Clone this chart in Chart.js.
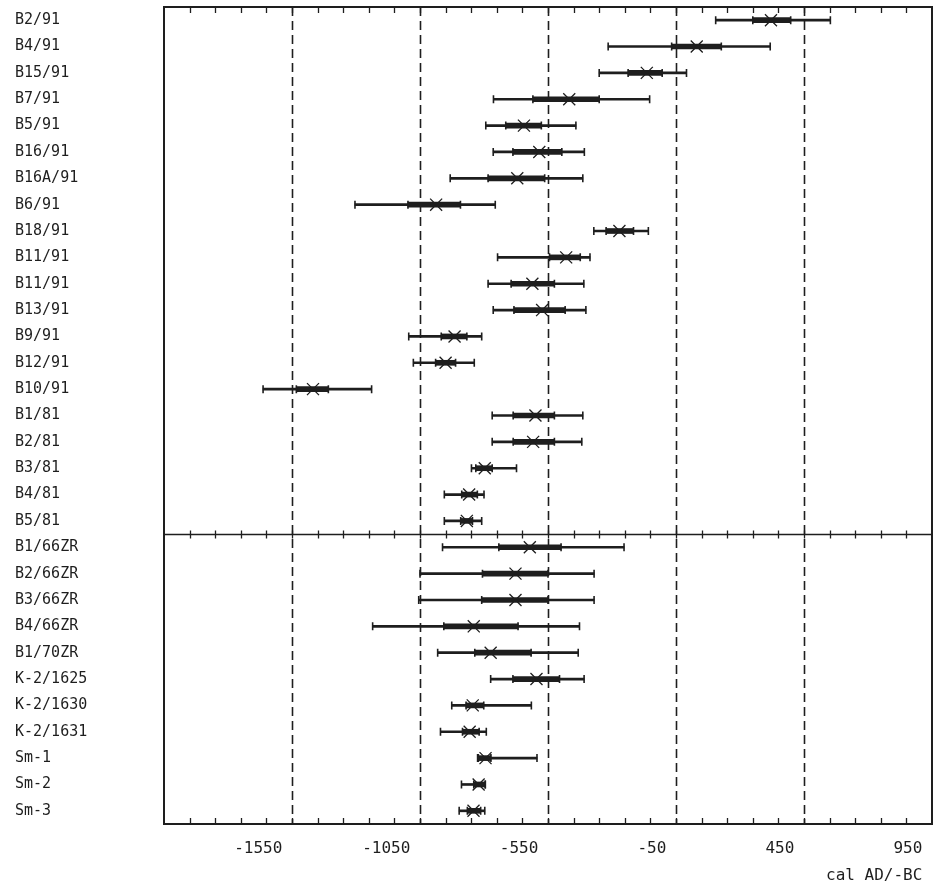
<!DOCTYPE html>
<html>
<head>
<meta charset="utf-8">
<script src="https://cdn.jsdelivr.net/npm/chart.js@4.4.0/dist/chart.umd.min.js"></script>
<style>
  html, body { margin: 0; padding: 0; background: #fff; }
  #wrap { width: 936px; height: 885px; position: relative; }
</style>
</head>
<body>
<div id="wrap"><canvas id="dates"></canvas></div>
<script>
// sample names, top to bottom
const samples = ['B2/91', 'B4/91', 'B15/91', 'B7/91', 'B5/91', 'B16/91', 'B16A/91', 'B6/91', 'B18/91',
    'B11/91', 'B11/91', 'B13/91', 'B9/91', 'B12/91', 'B10/91', 'B1/81', 'B2/81', 'B3/81', 'B4/81', 'B5/81',
    'B1/66ZR', 'B2/66ZR', 'B3/66ZR', 'B4/66ZR', 'B1/70ZR', 'K-2/1625', 'K-2/1630', 'K-2/1631',
    'Sm-1', 'Sm-2', 'Sm-3'];

// 2 sigma range (thin line), cal AD/-BC
const twoSigmaLo = [105, -315, -350, -763, -793, -764, -932, -1304, -371, -747, -784, -764, -1094, -1076, -1663,
    -768, -768, -849, -955, -955, -962, -1050, -1055, -1235, -981, -774, -926, -970, -825, -888, -897];
const twoSigmaHi = [553, 318, -9, -153, -441, -408, -414, -756, -158, -386, -410, -402, -809, -838, -1239,
    -414, -418, -673, -800, -809, -253, -370, -370, -427, -432, -409, -615, -791, -593, -795, -797];

// 1 sigma range (thick line)
const oneSigmaLo = [250, -67, -237, -609, -715, -687, -784, -1097, -323, -544, -694, -683, -967, -989, -1533,
    -686, -686, -832, -887, -891, -742, -806, -809, -957, -836, -687, -870, -884, -822, -840, -865];
const oneSigmaHi = [398, 127, -104, -350, -576, -496, -563, -892, -216, -424, -525, -483, -867, -911, -1408,
    -525, -525, -768, -826, -845, -499, -550, -550, -667, -616, -505, -801, -819, -773, -795, -813];

// calibrated centre (X mark)
const centre = [321, 31, -164, -467, -644, -584, -670, -987, -271, -479, -611, -573, -915, -950, -1468,
    -599, -608, -797, -858, -867, -621, -677, -677, -840, -774, -595, -844, -856, -794, -821, -841];

// x axis
const xMin = -2050;
const xMax = 950;
const tickStep = 100;
const labelledTicks = [-1550, -1050, -550, -50, 450, 950];
const dashedAt = [-1550, -1050, -550, -50, 450];
const groupSplitAfter = 19; // line between B5/81 and B1/66ZR

const ink = '#1e1e1e';
const mono = "'DejaVu Sans Mono', monospace";

// helper: one point per sample so the data index matches the row
function pointsAt(values) {
    return values.map((v, i) => ({ x: v, y: i }));
}

const framePlugin = {
    id: 'framePlugin',
    beforeDatasetsDraw(chart) {
        const { ctx, chartArea } = chart;
        const xs = chart.scales.x;
        ctx.save();
        ctx.strokeStyle = ink;
        ctx.lineWidth = 1.6;
        ctx.setLineDash([9, 5]);
        dashedAt.forEach(v => {
            const px = Math.round(xs.getPixelForValue(v)) + 0.5;
            ctx.beginPath();
            ctx.moveTo(px, chartArea.top);
            ctx.lineTo(px, chartArea.bottom);
            ctx.stroke();
        });
        ctx.restore();
    },
    afterDatasetsDraw(chart) {
        const { ctx, chartArea } = chart;
        const xs = chart.scales.x;
        const ys = chart.scales.y;
        const midY = Math.round((ys.getPixelForValue(groupSplitAfter) + ys.getPixelForValue(groupSplitAfter + 1)) / 2) + 0.5;

        ctx.save();
        ctx.strokeStyle = ink;

        // box
        ctx.lineWidth = 2;
        ctx.strokeRect(chartArea.left, chartArea.top, chartArea.right - chartArea.left, chartArea.bottom - chartArea.top);

        // group separator
        ctx.lineWidth = 1.5;
        ctx.beginPath();
        ctx.moveTo(chartArea.left, midY);
        ctx.lineTo(chartArea.right, midY);
        ctx.stroke();

        // tick marks every 100 years
        ctx.lineWidth = 1.3;
        xs.ticks.forEach(t => {
            if (t.value <= xMin || t.value >= xMax) return;
            const px = Math.round(xs.getPixelForValue(t.value)) + 0.5;
            ctx.beginPath();
            ctx.moveTo(px, chartArea.top);
            ctx.lineTo(px, chartArea.top + 6);
            ctx.moveTo(px, chartArea.bottom);
            ctx.lineTo(px, chartArea.bottom - 6);
            ctx.moveTo(px, midY - 4);
            ctx.lineTo(px, midY + 4);
            ctx.stroke();
        });
        ctx.restore();
    }
};

const ctx = document.getElementById('dates').getContext('2d');
const datesChart = new Chart(ctx, {
    type: 'bar',
    data: {
        labels: samples,
        datasets: [
            {
                type: 'scatter',
                label: 'centre',
                data: pointsAt(centre),
                pointStyle: 'crossRot',
                pointRadius: 8.5,
                borderColor: ink,
                borderWidth: 1.3
            },
            {
                type: 'scatter',
                label: '2s lo',
                data: pointsAt(twoSigmaLo),
                pointStyle: 'line',
                rotation: 90,
                pointRadius: 4,
                borderColor: ink,
                borderWidth: 1.6
            },
            {
                type: 'scatter',
                label: '2s hi',
                data: pointsAt(twoSigmaHi),
                pointStyle: 'line',
                rotation: 90,
                pointRadius: 4,
                borderColor: ink,
                borderWidth: 1.6
            },
            {
                type: 'scatter',
                label: '1s lo',
                data: pointsAt(oneSigmaLo),
                pointStyle: 'line',
                rotation: 90,
                pointRadius: 4,
                borderColor: ink,
                borderWidth: 1.6
            },
            {
                type: 'scatter',
                label: '1s hi',
                data: pointsAt(oneSigmaHi),
                pointStyle: 'line',
                rotation: 90,
                pointRadius: 4,
                borderColor: ink,
                borderWidth: 1.6
            },
            {
                label: '1 sigma',
                indexAxis: 'y',
                grouped: false,
                data: oneSigmaLo.map((lo, i) => [lo, oneSigmaHi[i]]),
                backgroundColor: ink,
                barThickness: 5
            },
            {
                label: '2 sigma',
                indexAxis: 'y',
                grouped: false,
                data: twoSigmaLo.map((lo, i) => [lo, twoSigmaHi[i]]),
                backgroundColor: ink,
                barThickness: 2
            }
        ]
    },
    options: {
        responsive: true,
        maintainAspectRatio: false,
        animation: false,
        layout: { autoPadding: false, padding: { left: 15, right: 4, top: 7, bottom: 0 } },
        plugins: {
            legend: { display: false },
            tooltip: { enabled: false }
        },
        scales: {
            x: {
                type: 'linear',
                axis: 'x',
                position: 'bottom',
                offset: false,
                min: xMin,
                max: xMax,
                grid: { display: false, drawTicks: false, offset: false },
                border: { display: false },
                ticks: {
                    stepSize: tickStep,
                    autoSkip: false,
                    maxRotation: 0,
                    align: 'end',
                    padding: 15,
                    color: ink,
                    font: { family: mono, size: 16 },
                    callback: (v) => labelledTicks.includes(Math.round(v)) ? Math.round(v) + ' ' : ''
                },
                title: {
                    display: true,
                    text: 'cal AD/-BC ',
                    align: 'end',
                    color: ink,
                    padding: { top: 0, bottom: 0 },
                    font: { family: mono, size: 16 }
                },
                afterFit: (scale) => {
                    scale.height = 61;
                    scale.paddingLeft = 0;
                    scale.paddingRight = 0;
                }
            },
            y: {
                type: 'category',
                axis: 'y',
                position: 'left',
                offset: true,
                grid: { display: false, drawTicks: false },
                border: { display: false },
                ticks: {
                    autoSkip: false,
                    crossAlign: 'far',
                    padding: 0,
                    color: ink,
                    font: { family: mono, size: 15 }
                },
                afterFit: (scale) => {
                    scale.width = 149;
                    scale.paddingTop = 0;
                    scale.paddingBottom = 0;
                }
            }
        }
    },
    plugins: [framePlugin]
});
</script>
</body>
</html>
